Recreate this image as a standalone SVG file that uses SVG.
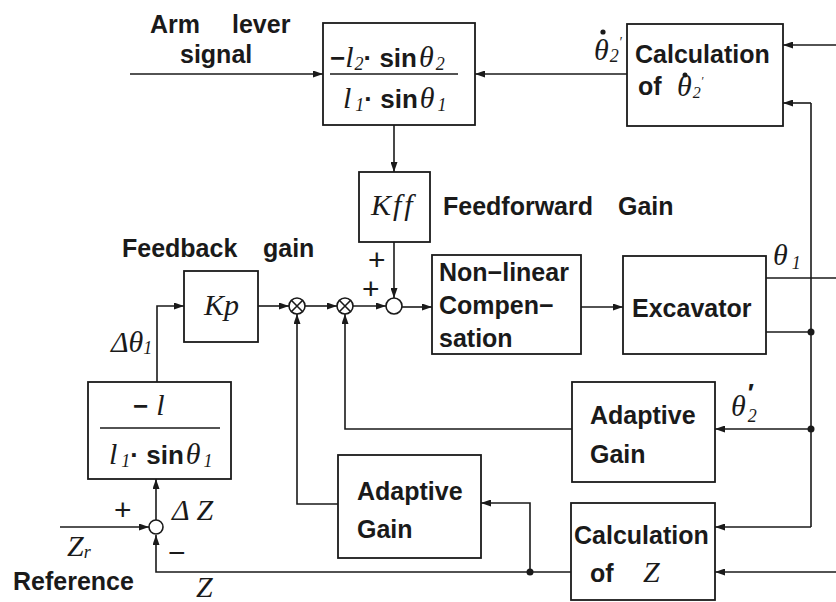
<svg xmlns="http://www.w3.org/2000/svg" width="836" height="602" viewBox="0 0 836 602">
<style>
.bx{fill:#fff;stroke:#1a1a1a;stroke-width:1.8}
.ln{fill:none;stroke:#1a1a1a;stroke-width:1.6}
.ar{marker-end:url(#ah)}
.t{font-family:"Liberation Sans",Arial,sans-serif;font-weight:bold;font-size:25px;fill:#1a1a1a}
.m{font-family:"Liberation Serif","DejaVu Serif",serif;font-style:italic;font-size:30px;fill:#1a1a1a}
.b{font-family:"Liberation Sans",Arial,sans-serif;font-style:normal;font-weight:bold;font-size:26px}
.s{font-size:18px}
.dot{fill:#1a1a1a}
.sym{font-family:"Liberation Sans",Arial,sans-serif;font-size:30px;fill:#1a1a1a}
</style>
<defs>
<marker id="ah" markerWidth="10" markerHeight="7" refX="10" refY="3.5" orient="auto" markerUnits="userSpaceOnUse">
<path d="M0,0 L10,3.5 L0,7 z" fill="#1a1a1a"/>
</marker>
</defs>

<g id="connectors">
<path class="ln ar" d="M130,74 H323"/>
<path class="ln ar" d="M627,74 H475"/>
<path class="ln ar" d="M836,45 H783"/>
<path class="ln" d="M811,103 V527"/>
<path class="ln ar" d="M811,103 H783"/>
<path class="ln" d="M766,332 H811"/>
<path class="ln ar" d="M811,429 H715"/>
<path class="ln ar" d="M811,527 H715"/>
<path class="ln" d="M766,278 H836"/>
<path class="ln ar" d="M394,125 V172"/>
<path class="ln ar" d="M394,242 V298"/>
<path class="ln ar" d="M402,307 H432"/>
<path class="ln ar" d="M581,307 H623"/>
<path class="ln ar" d="M258,306 H289"/>
<path class="ln ar" d="M305,306 H337"/>
<path class="ln ar" d="M353,306 H386"/>
<path class="ln ar" d="M572,429 H345 V314"/>
<path class="ln ar" d="M338,504 H297 V314"/>
<path class="ln ar" d="M530,572 V503 H481"/>
<path class="ln ar" d="M571,572 H156 V535"/>
<path class="ln ar" d="M836,572 H715"/>
<path class="ln ar" d="M60,527 H149"/>
<path class="ln ar" d="M156,520 V479"/>
<path class="ln ar" d="M157,382 V306 H184"/>
<circle class="dot" cx="811" cy="332" r="3.5"/>
<circle class="dot" cx="811" cy="429" r="3.5"/>
<circle class="dot" cx="530" cy="572" r="3.5"/>
</g>

<g id="labels">
<text class="t" y="33"><tspan x="150">Arm</tspan><tspan x="232">lever</tspan></text>
<text class="t" x="180" y="63">signal</text>
<text class="t" y="215"><tspan x="443">Feedforward</tspan><tspan x="618">Gain</tspan></text>
<text class="t" y="257"><tspan x="122">Feedback</tspan><tspan x="263">gain</tspan></text>
<text class="t" x="13" y="590">Reference</text>
<text class="m" x="773" y="265">θ<tspan class="s" dx="4" dy="4">1</tspan></text>
<text class="m" x="731" y="416">θ<tspan class="s" dx="2" dy="6">2</tspan><tspan class="b" font-size="22" dx="-9" dy="-20">′</tspan></text>
<text class="m" x="594" y="60">θ<tspan class="s" dx="1" dy="2">2</tspan><tspan font-size="14" dx="0" dy="-15">′</tspan></text>
<circle class="dot" cx="603" cy="32" r="2.6"/>
<text class="m" x="111" y="352">Δθ<tspan class="s" dy="2">1</tspan></text>
<text class="m" x="172" y="520">Δ Z</text>
<text class="m" x="67" y="556">Z<tspan class="s" dy="2">r</tspan></text>
<text class="m" x="196" y="597">Z</text>
<text class="sym" x="114" y="520">+</text>
<text class="sym" x="368" y="270">+</text>
<text class="sym" x="362" y="299">+</text>
<text class="sym" x="168" y="563">−</text>
</g>

<g id="ratio-top">
<rect class="bx" x="323" y="23" width="152" height="102"/>
<line class="ln" x1="330" y1="74" x2="458" y2="74"/>
<text class="m" x="330" y="67"><tspan class="b">−</tspan><tspan>l</tspan><tspan class="s" dx="1" dy="3">2</tspan><tspan class="b" dy="-3">· sin</tspan><tspan dx="2">θ</tspan><tspan class="s" dx="2" dy="3">2</tspan></text>
<text class="m" x="343" y="108"><tspan>l</tspan><tspan class="s" dx="4" dy="3">1</tspan><tspan class="b" dy="-3">· sin</tspan><tspan dx="2">θ</tspan><tspan class="s" dx="3" dy="3">1</tspan></text>
</g>

<g id="calc-theta2">
<rect class="bx" x="627" y="24" width="156" height="102"/>
<text class="t" x="635" y="63">Calculation</text>
<text class="t" x="638" y="95">of</text>
<text class="m" x="677" y="96" font-size="26">θ<tspan font-size="16" dx="1" dy="2">2</tspan><tspan font-size="12" dx="0" dy="-13">′</tspan></text>
<circle class="dot" cx="685" cy="75" r="2.5"/>
</g>

<g id="kff">
<rect class="bx" x="359" y="172" width="71" height="70"/>
<text class="m" x="371" y="215" font-size="32">K<tspan dx="2">f</tspan><tspan dx="3">f</tspan></text>
</g>

<g id="kp">
<rect class="bx" x="184" y="271" width="74" height="71"/>
<text class="m" x="204" y="315" font-size="34">Kp</text>
</g>

<g id="mult1">
<circle class="ln" cx="297" cy="306" r="8"/>
<path class="ln" d="M291.3,300.3 L302.7,311.7 M302.7,300.3 L291.3,311.7"/>
</g>
<g id="mult2">
<circle class="ln" cx="345" cy="306" r="8"/>
<path class="ln" d="M339.3,300.3 L350.7,311.7 M350.7,300.3 L339.3,311.7"/>
</g>
<g id="sum1">
<circle class="ln" cx="394" cy="306" r="8"/>
</g>

<g id="nonlinear">
<rect class="bx" x="432" y="255" width="149" height="99"/>
<text class="t" x="439" y="281">Non−linear</text>
<text class="t" x="439" y="314">Compen−</text>
<text class="t" x="439" y="347">sation</text>
</g>

<g id="excavator">
<rect class="bx" x="623" y="256" width="143" height="98"/>
<text class="t" x="632" y="317">Excavator</text>
</g>

<g id="ratio-bottom">
<rect class="bx" x="88" y="382" width="143" height="97"/>
<line class="ln" x1="100" y1="428" x2="220" y2="428"/>
<text class="m" x="133" y="415"><tspan class="b">−</tspan><tspan dx="8">l</tspan></text>
<text class="m" x="109" y="464"><tspan>l</tspan><tspan class="s" dx="4" dy="3">1</tspan><tspan class="b" dy="-3">· sin</tspan><tspan dx="2">θ</tspan><tspan class="s" dx="3" dy="3">1</tspan></text>
</g>

<g id="adaptive-right">
<rect class="bx" x="572" y="382" width="143" height="100"/>
<text class="t" x="590" y="424">Adaptive</text>
<text class="t" x="590" y="463">Gain</text>
</g>

<g id="adaptive-left">
<rect class="bx" x="338" y="455" width="143" height="103"/>
<text class="t" x="357" y="500">Adaptive</text>
<text class="t" x="357" y="538">Gain</text>
</g>

<g id="calc-z">
<rect class="bx" x="571" y="503" width="144" height="97"/>
<text class="t" x="574" y="544">Calculation</text>
<text class="t" x="590" y="582">of</text>
<text class="m" x="643" y="582">Z</text>
</g>

<g id="sum2">
<circle class="ln" cx="156" cy="527" r="7"/>
</g>
</svg>
